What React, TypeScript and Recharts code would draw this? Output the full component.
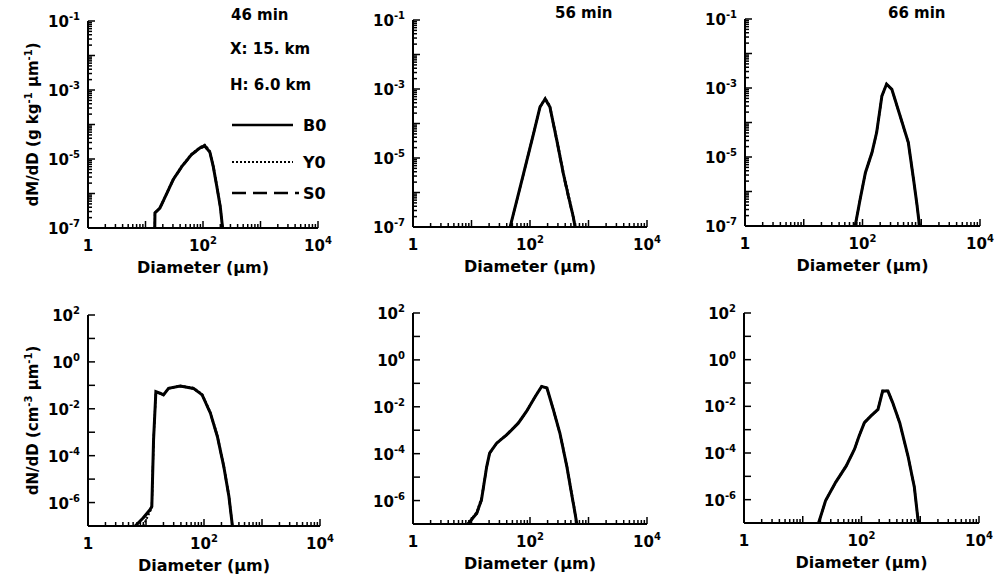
import React from "react";
import { LineChart, Line, XAxis, YAxis, Label } from "recharts";

// diameters (µm) and distribution values
// dM/dD, 46 min
const dMass46 = [14.5, 14.6, 17.8, 21.9, 30.2, 42.7, 63.1, 89.1, 107, 132, 151, 174, 200, 219];
const b0Mass46 = [1e-7, 2.75e-7, 3.8e-7, 7.9e-7, 2.5e-6, 6.0e-6, 1.35e-5, 2.1e-5, 2.45e-5, 1.55e-5, 6.0e-6, 1.6e-6, 4.1e-7, 1e-7];
const y0Mass46 = [1e-7, 2.7e-7, 3.9e-7, 8.2e-7, 2.6e-6, 6.3e-6, 1.4e-5, 2.2e-5, 2.6e-5, 1.7e-5, 6.6e-6, 1.8e-6, 4.5e-7, 1e-7];
const s0Mass46 = [1e-7, 2.8e-7, 3.7e-7, 7.6e-7, 2.4e-6, 5.8e-6, 1.3e-5, 2.0e-5, 2.3e-5, 1.5e-5, 5.7e-6, 1.5e-6, 3.8e-7, 1e-7];

// dM/dD, 56 min
const dMass56 = [45.7, 77.6, 115, 148, 182, 219, 288, 372, 457, 550, 589];
const b0Mass56 = [1e-7, 3.5e-6, 5.1e-5, 3.0e-4, 5.2e-4, 3.0e-4, 3.2e-5, 3.5e-6, 7.4e-7, 1.95e-7, 1e-7];
const y0Mass56 = [1e-7, 3.6e-6, 5.3e-5, 3.1e-4, 5.4e-4, 3.3e-4, 3.6e-5, 4.0e-6, 8.5e-7, 2.2e-7, 1e-7];
const s0Mass56 = [1e-7, 3.4e-6, 5.0e-5, 2.9e-4, 5.0e-4, 2.8e-4, 2.9e-5, 3.1e-6, 6.5e-7, 1.8e-7, 1e-7];

// dM/dD, 66 min
const dMass66 = [75, 91, 112, 145, 174, 214, 257, 316, 437, 603, 741, 851, 933];
const b0Mass66 = [1e-7, 5.9e-7, 3.5e-6, 1.35e-5, 5.1e-5, 5.9e-4, 1.3e-3, 9.1e-4, 1.55e-4, 2.6e-5, 2.2e-6, 3.8e-7, 1e-7];
const y0Mass66 = [1e-7, 6.0e-7, 3.6e-6, 1.4e-5, 5.2e-5, 6.0e-4, 1.32e-3, 9.3e-4, 1.6e-4, 2.7e-5, 2.3e-6, 3.9e-7, 1e-7];
const s0Mass66 = [1e-7, 5.8e-7, 3.4e-6, 1.3e-5, 5.0e-5, 5.8e-4, 1.28e-3, 8.9e-4, 1.5e-4, 2.5e-5, 2.1e-6, 3.7e-7, 1e-7];

// dN/dD, 46 min
const dNum46 = [6.5, 8.9, 11.7, 12.6, 13.5, 14.8, 17.4, 20, 24.5, 38.9, 66, 93, 129, 170, 219, 269, 309];
const b0Num46 = [1e-7, 2.2e-7, 4.9e-7, 6.8e-7, 4.7e-4, 0.054, 0.046, 0.039, 0.074, 0.093, 0.074, 0.039, 6.5e-3, 6.6e-4, 3.5e-5, 1.8e-6, 1e-7];
const y0Num46 = [1e-7, 1e-7, 4.0e-7, 6.5e-7, 4.5e-4, 0.052, 0.045, 0.04, 0.076, 0.096, 0.078, 0.042, 7.2e-3, 7.5e-4, 4.0e-5, 2.2e-6, 1e-7];
const s0Num46 = [1e-7, 2.0e-7, 4.6e-7, 6.6e-7, 4.6e-4, 0.053, 0.046, 0.039, 0.073, 0.091, 0.072, 0.038, 6.2e-3, 6.2e-4, 3.2e-5, 1.6e-6, 1e-7];

// dN/dD, 56 min
const dNum56 = [8.7, 12.3, 14.8, 18.2, 20.4, 26.9, 39.8, 63, 87, 123, 158, 195, 251, 324, 427, 513, 589, 631];
const b0Num56 = [1e-7, 2.9e-7, 1.07e-6, 2.8e-5, 1.05e-4, 2.8e-4, 6.3e-4, 2.0e-3, 6.3e-3, 0.0275, 0.074, 0.063, 7.4e-3, 7.6e-4, 2.8e-5, 2.0e-6, 2.9e-7, 1e-7];
const y0Num56 = [1e-7, 3.3e-7, 1.3e-6, 3.0e-5, 1.1e-4, 2.9e-4, 6.5e-4, 2.1e-3, 6.5e-3, 0.028, 0.076, 0.066, 8.0e-3, 8.4e-4, 3.2e-5, 2.4e-6, 3.4e-7, 1e-7];
const s0Num56 = [1e-7, 2.7e-7, 9.5e-7, 2.6e-5, 1.0e-4, 2.7e-4, 6.1e-4, 1.95e-3, 6.1e-3, 0.027, 0.072, 0.061, 7.0e-3, 7.1e-4, 2.6e-5, 1.8e-6, 2.6e-7, 1e-7];

// dN/dD, 66 min
const dNum66 = [18.6, 24.5, 36.3, 55, 76, 91, 112, 145, 191, 229, 282, 339, 447, 617, 794, 912, 955];
const b0Num66 = [1e-7, 9.1e-7, 5.5e-6, 2.8e-5, 1.45e-4, 5.4e-4, 2.0e-3, 3.9e-3, 7.4e-3, 0.045, 0.045, 0.0145, 2.0e-3, 7.6e-5, 3.4e-6, 1.5e-7, 1e-7];
const y0Num66 = [1e-7, 9.4e-7, 5.7e-6, 2.9e-5, 1.5e-4, 5.6e-4, 2.05e-3, 4.0e-3, 7.6e-3, 0.046, 0.046, 0.015, 2.1e-3, 8.0e-5, 3.6e-6, 1.6e-7, 1e-7];
const s0Num66 = [1e-7, 8.8e-7, 5.3e-6, 2.7e-5, 1.4e-4, 5.2e-4, 1.95e-3, 3.8e-3, 7.2e-3, 0.044, 0.044, 0.014, 1.9e-3, 7.2e-5, 3.2e-6, 1.4e-7, 1e-7];

// labelled decades (exponent of 10); 0 on the x axis is printed as "1"
const xTickExps = [0, 2, 4];
const massTickExps = [-1, -3, -5, -7];
const numTickExps = [2, 0, -2, -4, -6];

const FONT = "'DejaVu Sans', 'Liberation Sans', sans-serif";
const GAP = 4;

function logTicks(lo: number, hi: number, minor: boolean) {
  const out: number[] = [];
  for (let e = lo; e <= hi; e++) {
    out.push(Number(`1e${e}`));
    if (minor && e < hi) for (let k = 2; k <= 9; k++) out.push(Number(`${k}e${e}`));
  }
  return out;
}

const xTicks = logTicks(0, 4, true);
const massTicks = logTicks(-7, -1, true);
const numTicks = logTicks(-7, 2, false);

function decade(v: number) {
  const e = Math.log10(v);
  const r = Math.round(e);
  return Math.abs(e - r) < 1e-6 ? r : null;
}

const expText = (e: number) => (e < 0 ? `-${-e}` : `${e}`);

function Pow({ e, x, y, anchor }: { e: number; x: number; y: number; anchor: "end" | "middle" }) {
  return (
    <text x={x} y={y} textAnchor={anchor} fontFamily={FONT} fontWeight="bold" fontSize={15} fill="#000">
      {e === 0 && anchor === "middle" ? (
        "1"
      ) : (
        <>
          10
          <tspan dy={-7} fontSize={10}>{expText(e)}</tspan>
        </>
      )}
    </text>
  );
}

const YTick = (props: any) => {
  const { x, y, payload, exps } = props;
  const ax = x + GAP;
  const r = decade(payload.value);
  const show = r !== null && exps.includes(r);
  return (
    <g>
      <line x1={ax} x2={ax + (r !== null ? 7 : 4)} y1={y} y2={y} stroke="#000" strokeWidth={1.5} />
      {show && <Pow e={r as number} x={ax - 8} y={y + 6} anchor="end" />}
    </g>
  );
};

const XTick = (props: any) => {
  const { x, y, payload } = props;
  const ay = y - GAP;
  const r = decade(payload.value);
  const show = r !== null && xTickExps.includes(r);
  return (
    <g>
      <line x1={x} x2={x} y1={ay} y2={ay - (r !== null ? 7 : 4)} stroke="#000" strokeWidth={1.5} />
      {show && <Pow e={r as number} x={x} y={ay + 23} anchor="middle" />}
    </g>
  );
};

type Box = { x: number; y: number; w: number; h: number };

function Panel(p: {
  box: Box;
  d: number[];
  b0: number[];
  y0: number[];
  s0: number[];
  yDomain: [number, number];
  yTicks: number[];
  yExps: number[];
  yTitle?: [string, string, string];
}) {
  const rows = p.d.map((d, i) => ({ d, b0: p.b0[i], y0: p.y0[i], s0: p.s0[i] }));
  const { box } = p;
  return (
    <div style={{ position: "absolute", left: box.x - 80, top: box.y - 12 }}>
      <LineChart width={box.w + 100} height={box.h + 62} data={rows} margin={{ top: 12, right: 20, left: 20, bottom: 0 }}>
        <XAxis
          dataKey="d"
          type="number"
          scale="log"
          domain={[1, 10000]}
          allowDataOverflow
          ticks={xTicks}
          interval={0}
          tickSize={0}
          tickMargin={GAP}
          tickLine={false}
          tick={(t: any) => <XTick {...t} />}
          axisLine={{ stroke: "#000", strokeWidth: 2 }}
          height={50}
        >
          <Label
            content={(l: any) => (
              <text
                x={l.viewBox.x + l.viewBox.width / 2}
                y={l.viewBox.y + 45}
                textAnchor="middle"
                fontFamily={FONT}
                fontWeight="bold"
                fontSize={16}
                fill="#000"
              >
                Diameter (µm)
              </text>
            )}
          />
        </XAxis>
        <YAxis
          type="number"
          scale="log"
          domain={p.yDomain}
          allowDataOverflow
          ticks={p.yTicks}
          interval={0}
          tickSize={0}
          tickMargin={GAP}
          tickLine={false}
          tick={(t: any) => <YTick {...t} exps={p.yExps} />}
          axisLine={{ stroke: "#000", strokeWidth: 2 }}
          width={60}
        >
          {p.yTitle && (
            <Label
              content={(l: any) => {
                const cx = l.viewBox.x + 5;
                const cy = l.viewBox.y + l.viewBox.height / 2;
                const [a, b, c] = p.yTitle as [string, string, string];
                return (
                  <text
                    x={cx}
                    y={cy}
                    dy="0.35em"
                    transform={`rotate(-90 ${cx} ${cy})`}
                    textAnchor="middle"
                    fontFamily={FONT}
                    fontWeight="bold"
                    fontSize={15}
                    fill="#000"
                  >
                    {a}
                    <tspan dy={-6} fontSize={10}>{b}</tspan>
                    <tspan dy={6}> µm</tspan>
                    <tspan dy={-6} fontSize={10}>-1</tspan>
                    <tspan dy={6}>{c}</tspan>
                  </text>
                );
              }}
            />
          )}
        </YAxis>
        <Line type="linear" dataKey="s0" stroke="#000" strokeWidth={2} strokeDasharray="7 5" dot={false} activeDot={false} isAnimationActive={false} />
        <Line type="linear" dataKey="y0" stroke="#000" strokeWidth={2} strokeDasharray="2 2" dot={false} activeDot={false} isAnimationActive={false} />
        <Line type="linear" dataKey="b0" stroke="#000" strokeWidth={3} dot={false} activeDot={false} isAnimationActive={false} />
      </LineChart>
    </div>
  );
}

const txt = { fontFamily: FONT, fontWeight: "bold" as const, fontSize: 15, fill: "#000" };

export default function App() {
  const massDomain: [number, number] = [1e-7, 1e-1];
  const numDomain: [number, number] = [1e-7, 1e2];
  return (
    <div style={{ position: "absolute", left: 0, top: 0, width: 1003, height: 576, background: "#fff", overflow: "hidden" }}>
      <Panel box={{ x: 88, y: 21, w: 230, h: 207 }} d={dMass46} b0={b0Mass46} y0={y0Mass46} s0={s0Mass46}
        yDomain={massDomain} yTicks={massTicks} yExps={massTickExps} yTitle={["dM/dD (g kg", "-1", ")"]} />
      <Panel box={{ x: 413, y: 20, w: 234, h: 207 }} d={dMass56} b0={b0Mass56} y0={y0Mass56} s0={s0Mass56}
        yDomain={massDomain} yTicks={massTicks} yExps={massTickExps} />
      <Panel box={{ x: 745, y: 19, w: 235, h: 207 }} d={dMass66} b0={b0Mass66} y0={y0Mass66} s0={s0Mass66}
        yDomain={massDomain} yTicks={massTicks} yExps={massTickExps} />
      <Panel box={{ x: 88, y: 315, w: 232, h: 211 }} d={dNum46} b0={b0Num46} y0={y0Num46} s0={s0Num46}
        yDomain={numDomain} yTicks={numTicks} yExps={numTickExps} yTitle={["dN/dD (cm", "-3", ")"]} />
      <Panel box={{ x: 413, y: 313, w: 234, h: 211 }} d={dNum56} b0={b0Num56} y0={y0Num56} s0={s0Num56}
        yDomain={numDomain} yTicks={numTicks} yExps={numTickExps} />
      <Panel box={{ x: 744, y: 313, w: 235, h: 210 }} d={dNum66} b0={b0Num66} y0={y0Num66} s0={s0Num66}
        yDomain={numDomain} yTicks={numTicks} yExps={numTickExps} />
      <svg width={1003} height={576} style={{ position: "absolute", left: 0, top: 0, pointerEvents: "none" }}>
        <text x={231} y={20} {...txt}>46 min</text>
        <text x={230} y={54} {...txt}>X: 15. km</text>
        <text x={230} y={90} {...txt}>H: 6.0 km</text>
        <line x1={232} x2={293} y1={125} y2={125} stroke="#000" strokeWidth={2.5} />
        <text x={303} y={131} {...txt} fontSize={16}>B0</text>
        <line x1={232} x2={293} y1={162} y2={162} stroke="#000" strokeWidth={2} strokeDasharray="2 2" />
        <text x={303} y={168} {...txt} fontSize={16}>Y0</text>
        <line x1={232} x2={299} y1={193} y2={193} stroke="#000" strokeWidth={2.5} strokeDasharray="14 7" />
        <text x={303} y={199} {...txt} fontSize={16}>S0</text>
        <text x={555} y={18} {...txt}>56 min</text>
        <text x={888} y={18} {...txt}>66 min</text>
      </svg>
    </div>
  );
}
